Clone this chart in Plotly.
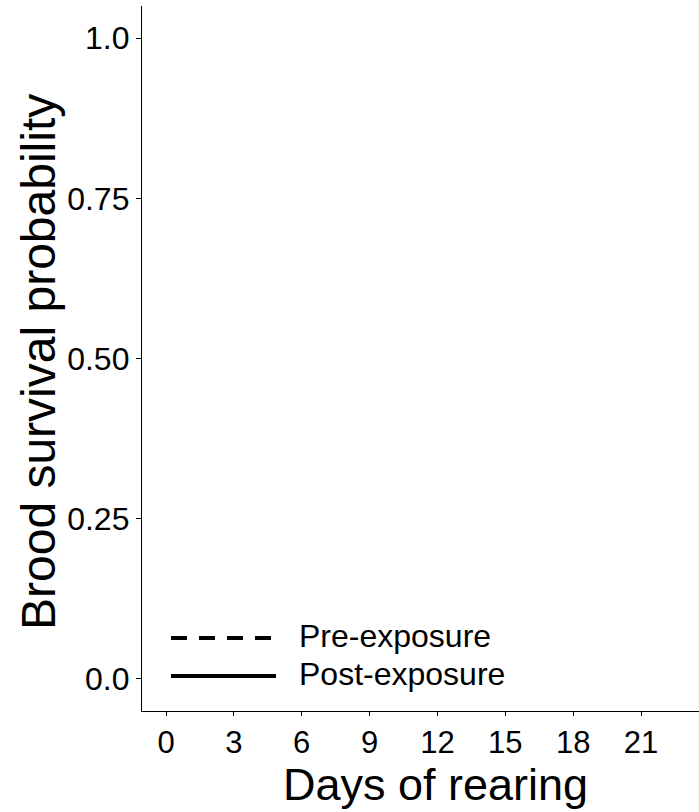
import plotly.graph_objects as go

# ---- data / labels ----
x_ticks = [0, 3, 6, 9, 12, 15, 18, 21]
y_ticks = [0.0, 0.25, 0.50, 0.75, 1.0]
y_tick_labels = ["0.0", "0.25", "0.50", "0.75", "1.0"]
series_names = ["Pre-exposure", "Post-exposure"]
series_dash = ["16px,12px", "solid"]
x_title = "Days of rearing"
y_title = "Brood survival probability"

W, H = 699, 812
ML, MR, MT, MB = 142, 0, 6, 101
PW, PH = W - ML - MR, H - MT - MB
FONT = "Arial, Liberation Sans, sans-serif"


def px_x(p):
    return (p - ML) / PW


def px_y(p):
    return (H - MB - p) / PH


fig = go.Figure()
# invisible anchor trace so axes are drawn
fig.add_trace(go.Scatter(x=[None], y=[None], mode="lines", showlegend=False))

fig.update_layout(
    width=W, height=H,
    margin=dict(l=ML, r=MR, t=MT, b=MB),
    plot_bgcolor="white", paper_bgcolor="white",
    showlegend=False,
    font=dict(family=FONT, color="black"),
)
fig.update_xaxes(
    range=[-1.061, 23.56], tickmode="array", tickvals=x_ticks,
    ticktext=[str(v) for v in x_ticks],
    showline=True, linecolor="black", linewidth=1.3,
    ticks="outside", ticklen=4, tickwidth=1.3, tickcolor="black",
    tickfont=dict(size=31, color="black", family=FONT),
    showgrid=False, zeroline=False,
)
fig.update_yaxes(
    range=[-0.0504, 1.0504], tickmode="array", tickvals=y_ticks,
    ticktext=y_tick_labels,
    showline=True, linecolor="black", linewidth=1.3,
    ticks="outside", ticklen=5, tickwidth=1.3, tickcolor="black",
    tickfont=dict(size=32, color="black", family=FONT),
    showgrid=False, zeroline=False,
)

ann = []
ann.append(dict(text=x_title, xref="paper", yref="paper", x=px_x(435), y=px_y(784),
                xanchor="center", yanchor="middle", showarrow=False,
                font=dict(size=45, color="black", family=FONT)))
ann.append(dict(text=y_title, xref="paper", yref="paper", x=px_x(38), y=px_y(362),
                xanchor="center", yanchor="middle", showarrow=False, textangle=-90,
                font=dict(size=48, color="black", family=FONT)))

# manual legend
leg_y = [638, 676]
shapes = []
for name, dash, ly in zip(series_names, series_dash, leg_y):
    shapes.append(dict(type="line", xref="paper", yref="paper",
                       x0=px_x(171), x1=px_x(276 if dash == "solid" else 275),
                       y0=px_y(ly), y1=px_y(ly),
                       line=dict(color="black", width=4, dash=dash)))
    ann.append(dict(text=name, xref="paper", yref="paper", x=px_x(297), y=px_y(ly - 2),
                    xanchor="left", yanchor="middle", showarrow=False,
                    font=dict(size=32, color="black", family=FONT)))

fig.update_layout(annotations=ann, shapes=shapes)
fig.write_html("out.html", config={"displayModeBar": False},
               post_script="document.body.style.margin='0';document.body.style.overflow='hidden';")
